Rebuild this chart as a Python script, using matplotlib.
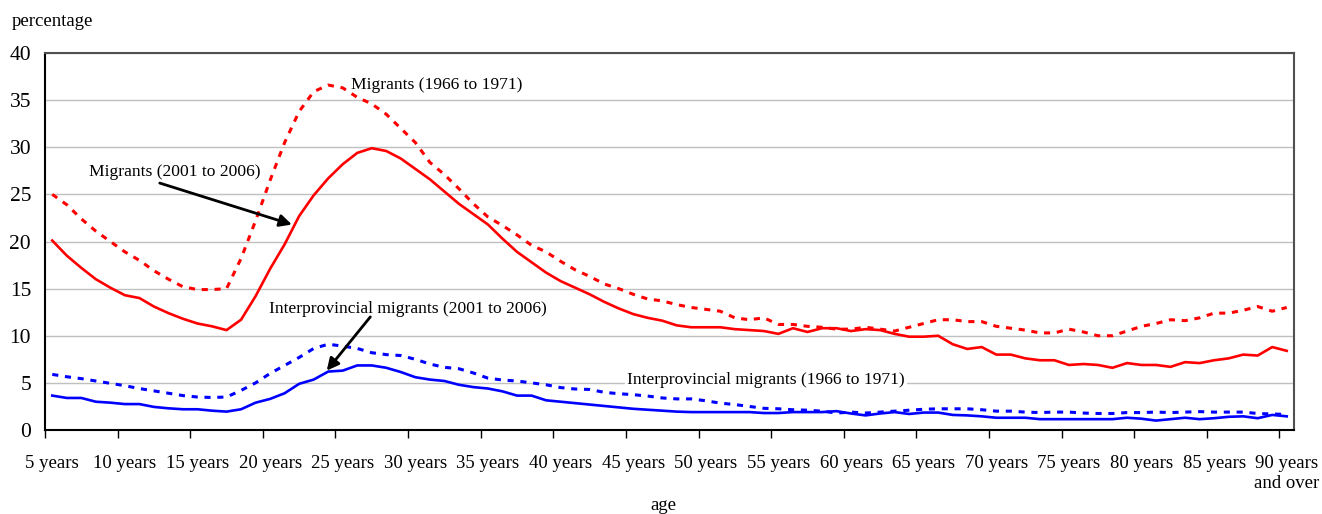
#!/usr/bin/env python3
"""
Migration rates by single year of age, 1966-1971 vs 2001-2006.
"""

import numpy as np
import matplotlib
matplotlib.use("Agg")
import matplotlib.pyplot as plt
from matplotlib.ticker import FixedLocator, NullFormatter

# ages 5 .. 90 (last one is "90 years and over")
ages = list(range(5, 91))

migrants_2001 = [
    20.1, 18.5, 17.2, 16.0, 15.1, 14.3, 14.0, 13.1, 12.4, 11.8, 11.3, 11.0, 10.6, 11.7, 14.2,
    17.1, 19.7, 22.7, 24.9, 26.7, 28.2, 29.4, 29.9, 29.6, 28.8, 27.7, 26.6, 25.3, 24.0, 22.9,
    21.8, 20.3, 18.9, 17.8, 16.7, 15.8, 15.1, 14.4, 13.6, 12.9, 12.3, 11.9, 11.6, 11.1, 10.9,
    10.9, 10.9, 10.7, 10.6, 10.5, 10.2, 10.8, 10.4, 10.8, 10.8, 10.5, 10.7, 10.6,
    10.2, 9.9, 9.9, 10.0, 9.1, 8.6, 8.8, 8.0, 8.0, 7.6, 7.4, 7.4, 6.9, 7.0, 6.9,
    6.6, 7.1, 6.9, 6.9, 6.7, 7.2, 7.1, 7.4, 7.6, 8.0, 7.9, 8.8, 8.4,
]

migrants_1966 = [
    25.0, 23.9, 22.4, 21.1, 20.0, 18.9, 18.0, 16.9, 16.0, 15.2, 14.9, 14.9, 15.0, 18.2, 22.2,
    26.5, 30.5, 33.8, 35.9, 36.6, 36.3, 35.3, 34.6, 33.5, 32.0, 30.5, 28.4, 27.1, 25.6, 24.0,
    22.6, 21.7, 20.7, 19.6, 18.9, 17.9, 17.0, 16.3, 15.5, 15.0, 14.4, 13.9, 13.7, 13.3, 13.0,
    12.8, 12.6, 11.9, 11.7, 11.9, 11.2, 11.2, 11.0, 10.9, 10.7, 10.7, 10.9, 10.7,
    10.5, 10.9, 11.3, 11.7, 11.7, 11.5, 11.5, 11.0, 10.8, 10.6, 10.3, 10.3, 10.7, 10.4, 10.0,
    10.0, 10.5, 11.0, 11.3, 11.7, 11.6, 11.9, 12.4, 12.4, 12.7, 13.1, 12.6, 13.0,
]

interprov_2001 = [
    3.65, 3.4, 3.4, 3.0, 2.9, 2.75, 2.75, 2.45, 2.3, 2.2, 2.2, 2.05, 1.95, 2.2, 2.9,
    3.3, 3.9, 4.9, 5.35, 6.2, 6.3, 6.85, 6.85, 6.6, 6.15, 5.6, 5.35, 5.2, 4.8, 4.55,
    4.4, 4.1, 3.65, 3.65, 3.15, 3.0, 2.85, 2.7, 2.55, 2.4, 2.25, 2.15, 2.05, 1.95, 1.9,
    1.9, 1.9, 1.9, 1.9, 1.8, 1.8, 1.9, 1.9, 1.9, 2.0, 1.75, 1.55, 1.75,
    1.9, 1.7, 1.85, 1.85, 1.6, 1.55, 1.45, 1.3, 1.3, 1.3, 1.15, 1.15, 1.15, 1.15, 1.15,
    1.15, 1.3, 1.2, 1.0, 1.15, 1.3, 1.15, 1.25, 1.4, 1.45, 1.25, 1.6, 1.45,
]

interprov_1966 = [
    5.9, 5.65, 5.45, 5.2, 4.95, 4.7, 4.4, 4.15, 3.9, 3.65, 3.5, 3.45, 3.5, 4.2, 5.0,
    6.0, 6.85, 7.7, 8.65, 9.1, 8.9, 8.65, 8.2, 8.0, 7.9, 7.5, 7.0, 6.65, 6.5, 6.05,
    5.5, 5.3, 5.2, 5.0, 4.8, 4.5, 4.35, 4.3, 4.0, 3.85, 3.75, 3.6, 3.4, 3.3, 3.3,
    3.1, 2.85, 2.7, 2.5, 2.3, 2.25, 2.15, 2.1, 2.0, 1.8, 1.9, 1.8, 1.9,
    2.0, 2.1, 2.2, 2.25, 2.25, 2.25, 2.15, 2.0, 2.0, 1.9, 1.85, 1.9, 1.9, 1.8, 1.75,
    1.75, 1.85, 1.85, 1.9, 1.85, 1.9, 1.95, 1.9, 1.9, 1.9, 1.75, 1.7, 1.65,
]

label_ages = list(range(5, 91, 5))
label_texts = [f"{a} years" for a in label_ages[:-1]] + ["90 years\nand over"]
y_ticks = [0, 5, 10, 15, 20, 25, 30, 35, 40]


def main():
    plt.rcParams['font.family'] = ['Liberation Serif', 'DejaVu Serif']
    plt.rcParams['font.size'] = 13.5
    note_size = 12.6

    fig = plt.figure(figsize=(13.22, 5.14), dpi=100)
    ax = fig.add_axes([45 / 1322, 1 - 430 / 514, (1294 - 45) / 1322, (430 - 53) / 514])

    red = '#ff0000'
    blue = '#0000ff'
    dots = (0, (2.0, 2.2))

    ax.plot(ages, migrants_1966, color=red, lw=2.2, linestyle=dots, zorder=3)
    ax.plot(ages, migrants_2001, color=red, lw=1.9, zorder=4)
    ax.plot(ages, interprov_1966, color=blue, lw=2.2, linestyle=dots, zorder=3)
    ax.plot(ages, interprov_2001, color=blue, lw=1.9, zorder=4)

    # axes / grid
    ax.set_xlim(ages[0] - 0.5, ages[-1] + 0.5)
    ax.set_ylim(0, 40)
    ax.set_yticks(y_ticks)
    ax.yaxis.grid(True, color='#c0c0c0', lw=1)
    ax.set_axisbelow(True)
    ax.tick_params(axis='y', length=0, pad=10, labelsize=15.5)

    # tick marks between categories, labels at category centres
    ax.xaxis.set_major_locator(FixedLocator([a - 0.5 for a in label_ages]))
    ax.xaxis.set_major_formatter(NullFormatter())
    ax.xaxis.set_minor_locator(FixedLocator(label_ages))
    ax.set_xticklabels(label_texts, minor=True)
    ax.tick_params(axis='x', which='major', length=6, width=1, direction='out')
    ax.tick_params(axis='x', which='minor', length=0, pad=18, labelsize=13.5)

    for side in ('left', 'bottom'):
        ax.spines[side].set_color('black')
        ax.spines[side].set_linewidth(1.5)
    for side in ('top', 'right'):
        ax.spines[side].set_color('#505050')
        ax.spines[side].set_linewidth(1.5)

    # annotations
    arrow = dict(arrowstyle='-|>', color='black', lw=2, mutation_scale=18,
                 shrinkA=0, shrinkB=0)
    ax.text(7.5, 27.4, 'Migrants (2001 to 2006)', ha='left', va='center', fontsize=note_size)
    ax.annotate('', xy=(21.5, 21.8), xytext=(12.4, 26.2), arrowprops=arrow)
    ax.text(25.6, 36.6, 'Migrants (1966 to 1971)', ha='left', va='center', fontsize=note_size)
    ax.text(19.9, 12.85, 'Interprovincial migrants (2001 to 2006)', ha='left', va='center',
            fontsize=note_size)
    ax.annotate('', xy=(23.9, 6.3), xytext=(26.9, 12.0), arrowprops=arrow)
    ax.text(44.6, 5.35, 'Interprovincial migrants (1966 to 1971)', ha='left', va='center',
            fontsize=note_size, zorder=2,
            bbox=dict(facecolor='white', edgecolor='none', pad=1.5))

    fig.text(12 / 1322, 1 - 21 / 514, 'percentage', ha='left', va='center')
    fig.text(663 / 1322, 1 - 505 / 514, 'age', ha='center', va='center')

    fig.savefig('out.png', dpi=100, facecolor='white')


if __name__ == "__main__":
    main()
